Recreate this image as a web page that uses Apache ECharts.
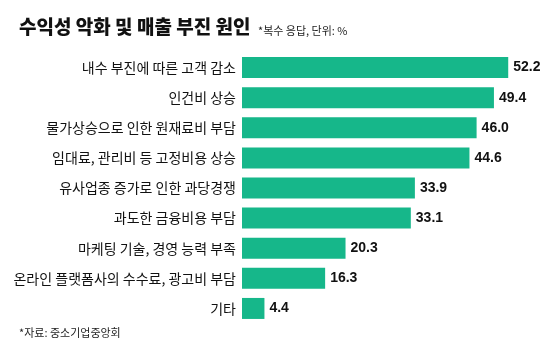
<!DOCTYPE html>
<html>
<head>
<meta charset="utf-8">
<script src="https://cdn.jsdelivr.net/npm/echarts@6/dist/echarts.min.js"></script>
<style>
  html, body { margin: 0; padding: 0; background: #fff; }
  #chart { width: 560px; height: 352px; }
</style>
</head>
<body>
<div id="chart"></div>
<script>
// 수익성 악화 및 매출 부진 원인 (복수 응답, %)
var categories = [
  '내수 부진에 따른 고객 감소',
  '인건비 상승',
  '물가상승으로 인한 원재료비 부담',
  '임대료, 관리비 등 고정비용 상승',
  '유사업종 증가로 인한 과당경쟁',
  '과도한 금융비용 부담',
  '마케팅 기술, 경영 능력 부족',
  '온라인 플랫폼사의 수수료, 광고비 부담',
  '기타'
];
var values = [52.2, 49.4, 46.0, 44.6, 33.9, 33.1, 20.3, 16.3, 4.4];

var font = '"Noto Sans CJK KR", "Noto Sans", sans-serif';

var chart = echarts.init(document.getElementById('chart'));
chart.setOption({
  backgroundColor: '#fff',
  animation: false,
  title: [
    {
      text: '수익성 악화 및 매출 부진 원인',
      left: 14, top: 12,
      textStyle: { fontFamily: font, fontSize: 19, fontWeight: 900, color: '#111' }
    },
    {
      text: '*복수 응답, 단위: %',
      left: 253, top: 20,
      textStyle: { fontFamily: font, fontSize: 11, fontWeight: 'normal', color: '#222' }
    },
    {
      text: '*자료: 중소기업중앙회',
      left: 14, top: 322,
      textStyle: { fontFamily: font, fontSize: 11, fontWeight: 'normal', color: '#222' }
    }
  ],
  grid: { left: 242, right: 12, top: 52.5, bottom: 28.5, containLabel: false },
  xAxis: {
    type: 'value', min: 0, max: 60,
    show: false
  },
  yAxis: {
    type: 'category',
    data: categories,
    inverse: true,
    axisLine: { show: false },
    axisTick: { show: false },
    splitLine: { show: false },
    axisLabel: { margin: 6, fontFamily: font, fontSize: 14, color: '#111' }
  },
  series: [{
    type: 'bar',
    data: values,
    barWidth: 21,
    itemStyle: { color: '#16b78a' },
    label: {
      show: true, position: 'right', distance: 5,
      formatter: function (p) { return p.value.toFixed(1); },
      fontFamily: '"Liberation Sans", Arial, sans-serif',
      fontSize: 14, fontWeight: 'bold', color: '#111'
    }
  }]
});
</script>
</body>
</html>
